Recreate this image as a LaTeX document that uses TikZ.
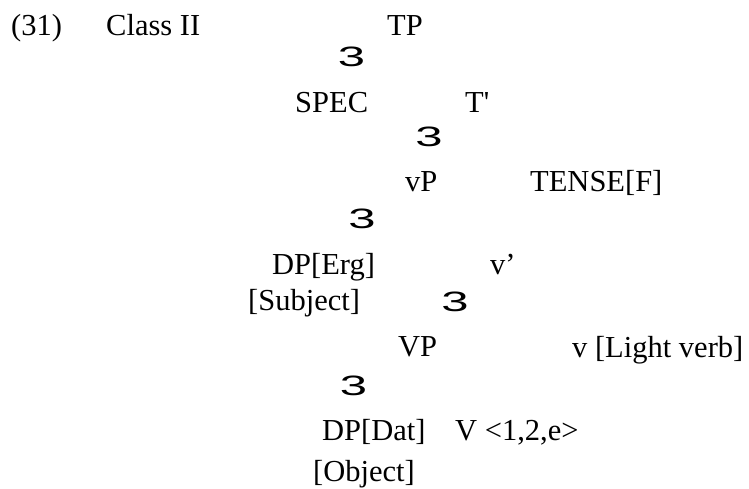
\documentclass[tikz,border=0pt]{standalone}
\usepackage{fontspec}
\setmainfont{Liberation Serif}
\newfontfamily\branchfont{Liberation Sans}
\newfontfamily\plainserif{Liberation Serif}[Ligatures=TeXOff]
\begin{document}
\begin{tikzpicture}[x=1pt,y=1pt,
  lbl/.style={anchor=base west,inner sep=0pt,font=\fontsize{30.5}{34}\selectfont},
  br/.style={anchor=base,inner sep=0pt,font=\branchfont\fontsize{28}{30}\selectfont}]
\useasboundingbox (0,0) rectangle (749,-489);
\newcommand{\brglyph}{\scalebox{1.75}[1]{3}}
% header
\node[lbl] (num) at (11,-36) {(31)};
\node[lbl] (cls) at (106,-36) {Class II};
% tree
\node[lbl] (tp) at (387,-36) {TP};
\node[br] (b1) at (351.5,-67) {\brglyph};
\node[lbl] (spec) at (295,-113) {SPEC};
\node[lbl] (tbar) at (465,-113) {\plainserif T'};
\node[br] (b2) at (429,-147) {\brglyph};
\node[lbl] (vp) at (405,-192) {vP};
\node[lbl] (tense) at (530,-192) {TENSE[F]};
\node[br] (b3) at (362,-228) {\brglyph};
\node[lbl] (dperg) at (272,-274) {DP[Erg]};
\node[lbl] (vbar) at (490,-274) {v’};
\node[lbl] (subj) at (248,-310) {[Subject]};
\node[br] (b4) at (455,-311) {\brglyph};
\node[lbl] (VP) at (398,-356) {VP};
\node[lbl] (light) at (572,-357) {v [Light verb]};
\node[br] (b5) at (353.5,-395) {\brglyph};
\node[lbl] (dpdat) at (322,-440) {DP[Dat]};
\node[lbl] (verb) at (455,-440) {V <1,2,e>};
\node[lbl] (obj) at (313,-481) {[Object]};
\end{tikzpicture}
\end{document}
